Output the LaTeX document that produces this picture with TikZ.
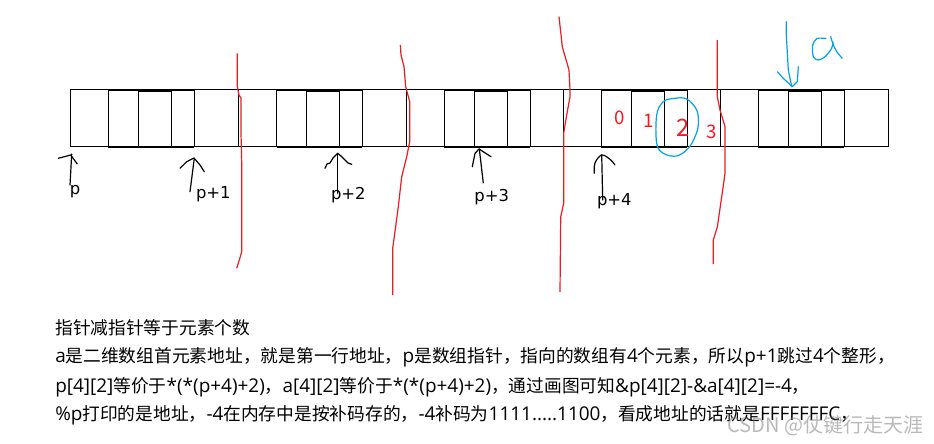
\documentclass[tikz,border=0pt]{standalone}
\usepackage{fontspec}
\setmainfont{Noto Sans CJK SC}
\newfontfamily\latfont{Open Sans}
\newfontfamily\labfont{DejaVu Sans}
\newcommand\LatRun[1]{{\latfont\fontsize{14.2pt}{16pt}\selectfont #1}}
\definecolor{pred}{HTML}{ED1C24}
\definecolor{pblue}{HTML}{00A2E8}
\tikzset{
  cell/.style={draw=black, line width=0.9pt},
  thickedge/.style={draw=black, line width=1.6pt},
  redline/.style={draw=pred, line width=0.9pt, line join=round},
  ptr/.style={draw=black, line width=0.9pt, line join=round, line cap=round},
  blueline/.style={draw=pblue, line width=0.9pt, line join=round, line cap=round},
  plabel/.style={font=\labfont\fontsize{12.3pt}{14pt}\selectfont, inner sep=0pt},
  rednum/.style={text=pred, font=\fontsize{14pt}{15pt}\selectfont, inner sep=0pt},
  body/.style={anchor=west, inner sep=0pt, font=\fontsize{13.3pt}{16pt}\selectfont}
}
\begin{document}
\begin{tikzpicture}[x=0.75pt, y=-0.75pt]
\useasboundingbox[fill=white] (0,0) rectangle (934,443);
% memory strip
\draw[cell] (70.7,89.5) rectangle (888.3,146.5);
\foreach \a/\b/\c/\d/\e in {70.7/108.3/138.3/171.3/194.3, 238.3/276.7/306.3/339.3/362.3, 406.7/444.3/474.3/507.7/530.3, 563.3/601.3/631.3/664.3/687.3, 720.3/758.3/788.3/821.3/844.3}{
  \draw[cell] (\a,89.5) -- (\a,146.5);
  \draw[cell] (\b,89.5) -- (\b,146.5);
  \draw[cell] (\c,89.5) -- (\c,146.5);
  \draw[cell] (\d,89.5) -- (\d,146.5);
  \draw[cell] (\e,89.5) -- (\e,146.5);
  \draw[thickedge] (\b,90) -- (\e,90);
  \draw[thickedge] (\b,146.8) -- (\e,146.8);
  \draw[thickedge] (\c,90.6) -- (\d,90.6);
}
% red separators
\draw[redline] plot coordinates {(237.3,53.3) (237.3,86.7) (239,95) (241,98.3) (241,133) (241.7,163) (241.7,251.7) (239.3,260) (236.7,268.3)};
\draw[redline] plot coordinates {(400.3,45) (401,55) (404,66.7) (405.7,86.7) (409.7,101.7) (409.7,141.7) (406.7,156.7) (401.7,176.7) (398.3,206.7) (394.3,236.7) (392.7,248.3) (392.7,295)};
\draw[redline] plot coordinates {(559,16.7) (562.3,46.7) (569,70) (570,90) (570,96.7) (566.7,115) (563.7,133) (563.7,203) (560.7,217) (560,292)};
\draw[redline] plot coordinates {(717.3,40) (717.3,96.7) (720,110) (725,126.7) (725,173) (722.7,190) (717.3,227) (713.3,240) (713.3,264)};
% red indices
\node[rednum] (n0) at (619.3,118.3) {0};
\node[rednum] (n1) at (649,120.7) {1};
\node[rednum, font=\fontsize{18pt}{20pt}\selectfont] (n2) at (683.3,128) {2};
\node[rednum] (n3) at (711.7,132.3) {3};
% blue circle around 2
\draw[blueline] plot[smooth cycle, tension=0.6] coordinates {(675,98.3) (686.7,99) (696.7,110) (698.3,125) (695,136.7) (688.3,148.3) (676.7,156) (663.3,153.3) (656.7,143.3) (656.7,115) (663.3,101.7)};
% blue arrow and a
\draw[blueline] plot coordinates {(786.3,21.7) (786.3,35) (788.3,70) (791.7,86.7)};
\draw[blueline] plot coordinates {(777.3,71.7) (783.3,78.3) (792.3,86.7) (797.3,81.7) (798.3,66.7)};
\draw[blueline] plot[smooth, tension=0.5] coordinates {(826,38.5) (817,38.5) (812.7,45) (813.3,56.7) (818.3,60) (825,56.7) (831.7,48.3) (833,42)};
\draw[blueline] plot[smooth, tension=0.5] coordinates {(830.7,36.7) (833,44) (836.7,51.7) (842.3,58.3)};
% pointer labels
\node[plabel] (p0) at (75,191.7) {p};
\node[plabel] (p1) at (213.3,194.3) {p+1};
\node[plabel] (p2) at (348.3,195) {p+2};
\node[plabel] (p3) at (491.7,196.7) {p+3};
\node[plabel] (p4) at (614.3,201.7) {p+4};
% pointer arrows
\draw[ptr] (71.7,154) -- (70,185);
\draw[ptr] (58.3,158.3) -- (70.7,155) -- (77.3,164);
\draw[ptr] (194.3,158.3) -- (190,191.7);
\draw[ptr] (180,168.3) -- (186.7,161.7) -- (194,158) -- (200,165) -- (204.3,171.7);
\draw[ptr] (337.7,153.3) -- (337.7,193.3);
\draw[ptr] plot coordinates {(325,168.3) (327,164) (330,163) (333,158) (337.7,153.3) (341,156) (345,160) (348,163) (351.7,164.3)};
\draw[ptr] (479.3,149) -- (483.3,183);
\draw[ptr] (472.3,166.7) -- (475,153.3) -- (479,149) -- (491,156.7);
\draw[ptr] (601.7,155) -- (602.7,200);
\draw[ptr] plot[smooth, tension=0.6] coordinates {(594.3,173.3) (595,163) (601.7,155) (610,159.3) (615,165)};
% explanatory text
\node[body] (t1) at (55,327.3) {指针减指针等于元素个数};
\node[body] (t2) at (55,357.3) {\LatRun{a}是二维数组首元素地址，就是第一行地址，\LatRun{p}是数组指针，指向的数组有\LatRun{4}个元素，所以\LatRun{p+1}跳过\LatRun{4}个整形，};
\node[body] (t3) at (55,387.3) {\LatRun{p[4][2]}等价于\LatRun{*(*(p+4)+2)}，\LatRun{a[4][2]}等价于\LatRun{*(*(p+4)+2)}，通过画图可知\LatRun{\&p[4][2]-\&a[4][2]=-4}，};
\node[body] (t4) at (55,415) {\LatRun{\%p}打印的是地址，\LatRun{-4}在内存中是按补码存的，\LatRun{-4}补码为\LatRun{1111.....1100}，看成地址的话就是\LatRun{FFFFFFFC}，};
\node[anchor=west, inner sep=0pt, text=gray, opacity=0.55, font=\fontsize{15pt}{17pt}\selectfont] (wm) at (727,426) {CSDN @仗键行走天涯};
\end{tikzpicture}
\end{document}
